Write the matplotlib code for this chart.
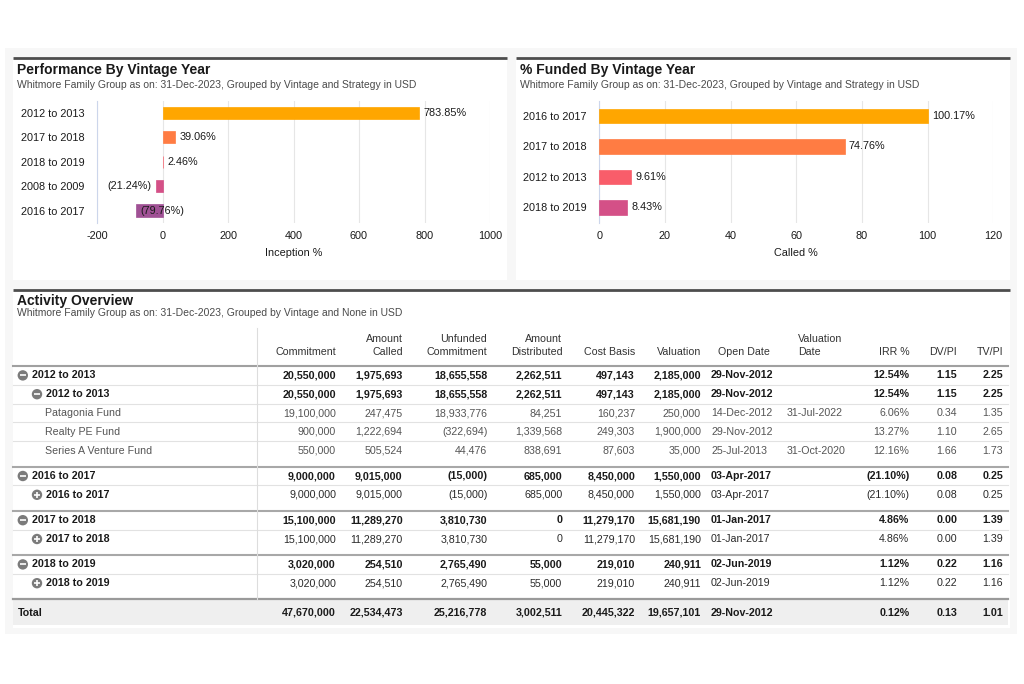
import matplotlib
matplotlib.use('Agg')
import matplotlib.pyplot as plt
from matplotlib.patches import Rectangle, Circle

plt.rcParams['font.family'] = ['Liberation Sans', 'DejaVu Sans']
plt.rcParams['axes.unicode_minus'] = False

# --- data ---------------------------------------------------------------
perf_labels = ['2012 to 2013', '2017 to 2018', '2018 to 2019', '2008 to 2009', '2016 to 2017']
perf_values = [783.85, 39.06, 2.46, -21.24, -79.76]
perf_colors = ['#ffa600', '#ff7c43', '#f95d6a', '#d45087', '#a05195']

funded_labels = ['2016 to 2017', '2017 to 2018', '2012 to 2013', '2018 to 2019']
funded_values = [100.17, 74.76, 9.61, 8.43]
funded_colors = ['#ffa600', '#ff7c43', '#f95d6a', '#d45087']

header_top = ['', 'Amount', 'Unfunded', 'Amount', '', '', '', 'Valuation', '', '', '']
header_bot = ['Commitment', 'Called', 'Commitment', 'Distributed', 'Cost Basis',
              'Valuation', 'Open Date', 'Date', 'IRR %', 'DV/PI', 'TV/PI']

# level: 0 = vintage group, 1 = sub group, 2 = fund
row_level = [0, 1, 2, 2, 2, 0, 1, 0, 1, 0, 1]
row_open = [True, True, None, None, None, True, False, True, False, True, False]
row_label = ['2012 to 2013', '2012 to 2013', 'Patagonia Fund', 'Realty PE Fund',
             'Series A Venture Fund', '2016 to 2017', '2016 to 2017',
             '2017 to 2018', '2017 to 2018', '2018 to 2019', '2018 to 2019']
row_values = [
    ['20,550,000', '1,975,693', '18,655,558', '2,262,511', '497,143', '2,185,000', '29-Nov-2012', '', '12.54%', '1.15', '2.25'],
    ['20,550,000', '1,975,693', '18,655,558', '2,262,511', '497,143', '2,185,000', '29-Nov-2012', '', '12.54%', '1.15', '2.25'],
    ['19,100,000', '247,475', '18,933,776', '84,251', '160,237', '250,000', '14-Dec-2012', '31-Jul-2022', '6.06%', '0.34', '1.35'],
    ['900,000', '1,222,694', '(322,694)', '1,339,568', '249,303', '1,900,000', '29-Nov-2012', '', '13.27%', '1.10', '2.65'],
    ['550,000', '505,524', '44,476', '838,691', '87,603', '35,000', '25-Jul-2013', '31-Oct-2020', '12.16%', '1.66', '1.73'],
    ['9,000,000', '9,015,000', '(15,000)', '685,000', '8,450,000', '1,550,000', '03-Apr-2017', '', '(21.10%)', '0.08', '0.25'],
    ['9,000,000', '9,015,000', '(15,000)', '685,000', '8,450,000', '1,550,000', '03-Apr-2017', '', '(21.10%)', '0.08', '0.25'],
    ['15,100,000', '11,289,270', '3,810,730', '0', '11,279,170', '15,681,190', '01-Jan-2017', '', '4.86%', '0.00', '1.39'],
    ['15,100,000', '11,289,270', '3,810,730', '0', '11,279,170', '15,681,190', '01-Jan-2017', '', '4.86%', '0.00', '1.39'],
    ['3,020,000', '254,510', '2,765,490', '55,000', '219,010', '240,911', '02-Jun-2019', '', '1.12%', '0.22', '1.16'],
    ['3,020,000', '254,510', '2,765,490', '55,000', '219,010', '240,911', '02-Jun-2019', '', '1.12%', '0.22', '1.16'],
]
total_values = ['47,670,000', '22,534,473', '25,216,778', '3,002,511', '20,445,322',
                '19,657,101', '29-Nov-2012', '', '0.12%', '0.13', '1.01']

subtitle_strategy = 'Whitmore Family Group as on: 31-Dec-2023, Grouped by Vintage and Strategy in USD'
subtitle_none = 'Whitmore Family Group as on: 31-Dec-2023, Grouped by Vintage and None in USD'

# --- layout -------------------------------------------------------------
W, H = 1024, 684
fig = plt.figure(figsize=(W / 100, H / 100), dpi=100)


def px_axes(x0, y0, x1, y1):
    return fig.add_axes([x0 / W, 1 - y1 / H, (x1 - x0) / W, (y1 - y0) / H])


bg = px_axes(0, 0, W, H)
bg.set_xlim(0, W)
bg.set_ylim(H, 0)
bg.axis('off')

bg.add_patch(Rectangle((5, 48), 1012, 586, color='#f7f7f7', lw=0))
for x0, y0, x1, y1 in [(13, 57, 507, 280), (516, 57, 1010, 280), (13, 289, 1010, 628)]:
    bg.add_patch(Rectangle((x0, y0), x1 - x0, y1 - y0, color='white', lw=0))
    bg.plot([x0, x1], [y0 + 1, y0 + 1], color='#4d4d4d', lw=2.0, solid_capstyle='butt')

TXT = '#1a1a1a'
SUB = '#4a4a4a'
TFS = 10.0
SFS = 7.5

bg.text(17, 70, 'Performance By Vintage Year', fontsize=TFS, fontweight='bold', color=TXT, va='center')
bg.text(17, 85, subtitle_strategy, fontsize=SFS, color=SUB, va='center')
bg.text(520, 70, '% Funded By Vintage Year', fontsize=TFS, fontweight='bold', color=TXT, va='center')
bg.text(520, 85, subtitle_strategy, fontsize=SFS, color=SUB, va='center')


def fmt_pct(v):
    return f'{v:.2f}%' if v >= 0 else f'({abs(v):.2f}%)'


def bar_chart(ax, labels, values, colors, height, xlim, xticks, xlabel):
    pos = list(range(len(labels)))
    ax.barh(pos, values, height=height, color=colors, edgecolor=colors, linewidth=0.5, zorder=3)
    ax.set_xlim(*xlim)
    ax.set_ylim(len(labels) - 0.5, -0.5)
    ax.set_yticks(pos)
    ax.set_yticklabels(labels)
    ax.set_xticks(xticks)
    ax.tick_params(length=0, labelsize=7.8, labelcolor=TXT)
    ax.tick_params(axis='y', pad=9)
    ax.tick_params(axis='x', pad=6)
    ax.grid(axis='x', color='#e6e6e6', lw=0.8, zorder=0)
    for s in ['top', 'right', 'bottom']:
        ax.spines[s].set_visible(False)
    ax.spines['left'].set_color('#ccd6eb')
    ax.spines['left'].set_linewidth(0.8)
    ax.set_xlabel(xlabel, fontsize=7.8, color=TXT, labelpad=5)
    ax.set_facecolor('none')
    texts = []
    for p, v in zip(pos, values):
        if v >= 0:
            t = ax.annotate(fmt_pct(v), (v, p), xytext=(3, 0), textcoords='offset points',
                            ha='left', va='center', fontsize=7.8, color=TXT, zorder=4)
        else:
            t = ax.annotate(fmt_pct(v), (v, p), xytext=(-3, 0), textcoords='offset points',
                            ha='right', va='center', fontsize=7.8, color=TXT, zorder=4)
        texts.append(t)
    return texts


ax1 = px_axes(97, 100.7, 490, 222.7)
t1 = bar_chart(ax1, perf_labels, perf_values, perf_colors, 0.5,
               (-200, 1000), [-200, 0, 200, 400, 600, 800, 1000], 'Inception %')
ax2 = px_axes(599.3, 100.7, 993.3, 222.7)
bar_chart(ax2, funded_labels, funded_values, funded_colors, 0.47,
          (0, 120), [0, 20, 40, 60, 80, 100, 120], 'Called %')

# justify labels that would fall outside the plot area
fig.canvas.draw()
for t in t1:
    if t.get_window_extent().x0 < ax1.bbox.x0:
        t.set_ha('left')
        t.xyann = (3, 0)

# --- table --------------------------------------------------------------
bg.text(17, 301.5, 'Activity Overview', fontsize=TFS, fontweight='bold', color=TXT, va='center')
bg.text(17, 313.5, subtitle_none, fontsize=SFS, color=SUB, va='center')

col_x = [336, 402.7, 487.3, 562.3, 635, 701, 711, 787, 909.3, 957.3, 1003.3]
col_ha = ['right'] * 6 + ['left', 'left'] + ['right'] * 3
head_x = [336, 402.7, 487.3, 562.3, 635, 701, 718, 798, 909.3, 957.3, 1003.3]
FS = 7.7
L0, L1 = 13, 1008

for x, ha, top, bot in zip(head_x, col_ha, header_top, header_bot):
    if top:
        bg.text(x, 339, top, fontsize=FS, color='#333333', ha=ha, va='center')
    bg.text(x, 352, bot, fontsize=FS, color='#333333', ha=ha, va='center')

bg.plot([L0, L1], [366, 366], color='#a0a0a0', lw=1.5)


def icon(x, y, is_open):
    bg.add_patch(Circle((x, y), 5.2, color='#7b7b7b', lw=0, zorder=3))
    bg.plot([x - 2.8, x + 2.8], [y, y], color='white', lw=1.2, zorder=4, solid_capstyle='butt')
    if not is_open:
        bg.plot([x, x], [y - 2.8, y + 2.8], color='white', lw=1.2, zorder=4, solid_capstyle='butt')


ROW_H = 18.8
GAP = 6.6
top = 366
for i, (lvl, is_open, lab, vals) in enumerate(zip(row_level, row_open, row_label, row_values)):
    if lvl == 0 and i > 0:
        top += GAP
        bg.plot([L0, L1], [top, top], color='#a8a8a8', lw=1.5)
    elif i > 0:
        bg.plot([L0, L1], [top, top], color='#e2e2e2', lw=0.8)
    yc = top + ROW_H / 2
    if lvl == 0:
        icon(22.8, yc, is_open)
        bg.text(31.7, yc, lab, fontsize=FS, fontweight='bold', color=TXT, va='center')
    elif lvl == 1:
        icon(37, yc, is_open)
        bg.text(45.7, yc, lab, fontsize=FS, fontweight='bold', color=TXT, va='center')
    else:
        bg.text(45, yc, lab, fontsize=FS, color='#555555', va='center')
    if lvl == 0 or (lvl == 1 and is_open):
        weight, color = 'bold', TXT
    elif lvl == 1:
        weight, color = 'normal', '#2a2a2a'
    else:
        weight, color = 'normal', '#555555'
    for x, ha, v in zip(col_x, col_ha, vals):
        bg.text(x, yc, v, fontsize=FS, fontweight=weight, color=color, ha=ha, va='center')
    top += ROW_H

top += GAP
bg.add_patch(Rectangle((L0, top), L1 - L0, 26, color='#efefef', lw=0))
bg.plot([L0, L1], [top, top], color='#9a9a9a', lw=1.6)
bg.plot([256.7, 256.7], [328, top], color='#dddddd', lw=0.8)
yc = top + 13.5
bg.text(18, yc, 'Total', fontsize=FS, fontweight='bold', color=TXT, va='center')
for x, ha, v in zip(col_x, col_ha, total_values):
    bg.text(x, yc, v, fontsize=FS, fontweight='bold', color=TXT, ha=ha, va='center')

fig.savefig('out.png', dpi=100, facecolor='white')
